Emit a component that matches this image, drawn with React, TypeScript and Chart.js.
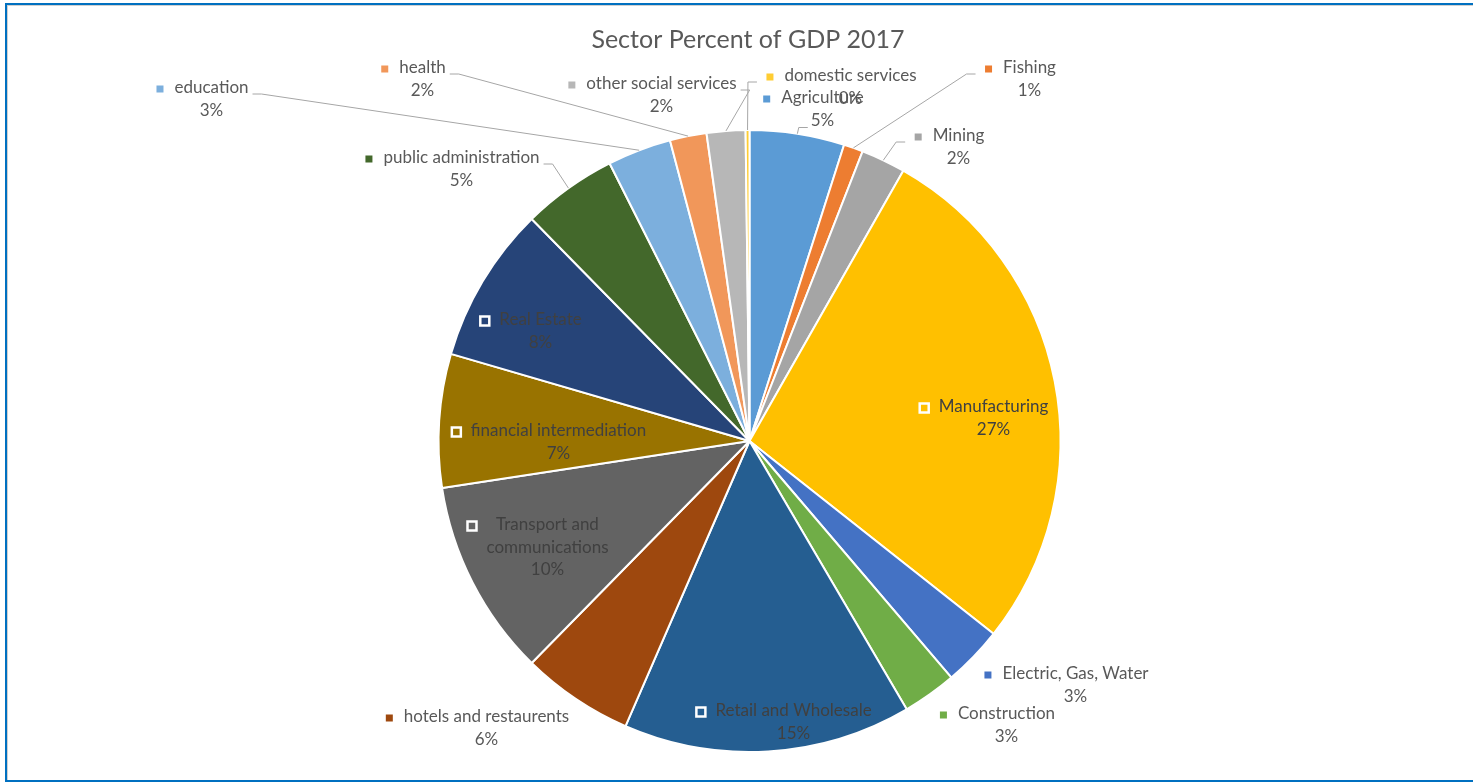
import React, { useEffect, useRef } from "react";
import { Chart, registerables } from "chart.js";

Chart.register(...registerables);

const TITLE = "Sector Percent of GDP 2017";

const categories = [
  "Agriculture",
  "Fishing",
  "Mining",
  "Manufacturing",
  "Electric, Gas, Water",
  "Construction",
  "Retail and Wholesale",
  "hotels and restaurents",
  "Transport and communications",
  "financial intermediation",
  "Real Estate",
  "public administration",
  "education",
  "health",
  "other social services",
  "domestic services",
];

const values = [4.9, 1.0, 2.3, 27.3, 3.1, 2.8, 14.9, 5.8, 10.2, 6.9, 8.1, 4.9, 3.3, 1.9, 2.0, 0.2];

const colors = [
  "#5B9BD5",
  "#ED7D31",
  "#A5A5A5",
  "#FFC000",
  "#4472C4",
  "#70AD47",
  "#255E91",
  "#9E480E",
  "#636363",
  "#997300",
  "#264478",
  "#43682B",
  "#7CAFDD",
  "#F1975A",
  "#B7B7B7",
  "#FFCD33",
];

// label placement (text centre of first line, relative to pie centre, at radius 311)
const labelDx = [73, 280, 209, 244, 326, 257, 44, -263, -202, -191, -209, -288, -538, -327, -88, 101];
const labelDy = [-343, -373, -305, -34, 233, 273, 270, 276, 84, -10, -121, -283, -353, -373, -357, -365];
const labelInside = [false, false, false, true, false, false, true, false, true, true, true, false, false, false, false, false];
const labelWrap = [0, 0, 0, 0, 0, 0, 0, 0, 135, 0, 0, 0, 0, 0, 0, 0];
const leaderType = ["pct", "left", "left", "none", "none", "none", "none", "none", "none", "none", "none", "right", "right", "right", "right", "left"];

const FONT = "Lato, 'Open Sans', sans-serif";

function wrapText(ctx: CanvasRenderingContext2D, text: string, maxW: number): string[] {
  if (!maxW) return [text];
  const words = text.split(" ");
  const lines: string[] = [];
  let cur = "";
  for (const w of words) {
    const test = cur ? cur + " " + w : w;
    if (cur && ctx.measureText(test).width > maxW) {
      lines.push(cur);
      cur = w;
    } else cur = test;
  }
  if (cur) lines.push(cur);
  return lines;
}

const labelPlugin = {
  id: "sectorLabels",
  afterDatasetsDraw(chart: any) {
    const ctx: CanvasRenderingContext2D = chart.ctx;
    const meta = chart.getDatasetMeta(0);
    const total = values.reduce((a, b) => a + b, 0);
    ctx.save();
    ctx.font = `17px ${FONT}`;
    ctx.textAlign = "center";
    ctx.textBaseline = "middle";
    const lh = 22.5;
    meta.data.forEach((arc: any, i: number) => {
      const p = arc.getProps(["x", "y", "startAngle", "endAngle", "outerRadius"], true);
      const k = p.outerRadius / 311;
      const mid = (p.startAngle + p.endAngle) / 2;
      const rx = p.x + Math.cos(mid) * p.outerRadius;
      const ry = p.y + Math.sin(mid) * p.outerRadius;
      const tx = p.x + labelDx[i] * k;
      const ty = p.y + labelDy[i] * k;
      const lines = wrapText(ctx, categories[i], labelWrap[i]);
      const pct = Math.round((values[i] / total) * 100) + "%";
      const widths = lines.map((l) => ctx.measureText(l).width);
      const maxW = Math.max(...widths);
      const w0 = widths[0];
      const mx = tx - maxW / 2 - 14.5;
      const my = ty + 1;
      const pctY = ty + lines.length * lh;

      // leader line
      const lt = leaderType[i];
      if (lt !== "none") {
        ctx.strokeStyle = "#A6A6A6";
        ctx.lineWidth = 1;
        ctx.beginPath();
        if (lt === "left") {
          const ex = mx - 13;
          const ey = ty + 6;
          ctx.moveTo(rx, ry);
          ctx.lineTo(ex - 9, ey);
          ctx.lineTo(ex, ey);
        } else if (lt === "right") {
          const ex = tx + w0 / 2 + 4;
          const ey = ty + 6;
          ctx.moveTo(rx, ry);
          ctx.lineTo(ex + 9, ey);
          ctx.lineTo(ex, ey);
        } else if (lt === "pct") {
          const pw = ctx.measureText(pct).width;
          const ex = tx - pw / 2 - 3;
          const ey = pctY + 7;
          ctx.moveTo(rx, ry);
          ctx.lineTo(ex - 9, ey);
          ctx.lineTo(ex, ey);
        }
        ctx.stroke();
      }

      // marker
      if (labelInside[i]) {
        ctx.fillStyle = colors[i];
        ctx.fillRect(mx - 5, my - 5, 10, 10);
        ctx.strokeStyle = "#FFFFFF";
        ctx.lineWidth = 2.5;
        ctx.strokeRect(mx - 4.5, my - 4.5, 9, 9);
      } else {
        ctx.fillStyle = colors[i];
        ctx.fillRect(mx - 3.5, my - 3.5, 7, 7);
      }

      // text
      ctx.fillStyle = labelInside[i] ? "#404040" : "#595959";
      lines.forEach((l, j) => ctx.fillText(l, tx, ty + j * lh));
      ctx.fillText(pct, tx, pctY);
    });
    ctx.restore();
  },
};

const titlePlugin = {
  id: "sectorTitle",
  afterDraw(chart: any) {
    const ctx: CanvasRenderingContext2D = chart.ctx;
    ctx.save();
    ctx.font = `25px ${FONT}`;
    ctx.fillStyle = "#595959";
    ctx.textAlign = "center";
    ctx.textBaseline = "middle";
    ctx.fillText(TITLE, 748, 40);
    ctx.restore();
  },
};

export default function App() {
  const ref = useRef<HTMLCanvasElement | null>(null);
  useEffect(() => {
    document.body.style.margin = "0";
    document.body.style.overflow = "hidden";
    if (!ref.current) return;
    const chart = new Chart(ref.current, {
      type: "pie",
      data: {
        labels: categories,
        datasets: [
          {
            data: values,
            backgroundColor: colors,
            borderColor: "#FFFFFF",
            borderWidth: 2,
          },
        ],
      },
      options: {
        responsive: false,
        animation: false,
        layout: { padding: { left: 26, right: 0, top: 129, bottom: 29 } },
        plugins: {
          legend: { display: false },
          tooltip: { enabled: false },
          title: { display: false },
        },
      },
      plugins: [labelPlugin, titlePlugin],
    });
    return () => chart.destroy();
  }, []);
  return (
    <div style={{ position: "relative", width: 1473, height: 782, overflow: "hidden", background: "#FFFFFF" }}>
      <canvas ref={ref} width={1473} height={782} style={{ display: "block" }} />
      <div
        style={{
          position: "absolute",
          left: 5,
          top: 3,
          width: 1500,
          height: 779,
          boxSizing: "border-box",
          borderLeft: "2px solid #0070C0",
          borderTop: "2px solid #0070C0",
          borderBottom: "2px solid #0070C0",
          boxShadow: "inset 1px 1px 0 #D0D0D0",
          pointerEvents: "none",
        }}
      />
    </div>
  );
}
